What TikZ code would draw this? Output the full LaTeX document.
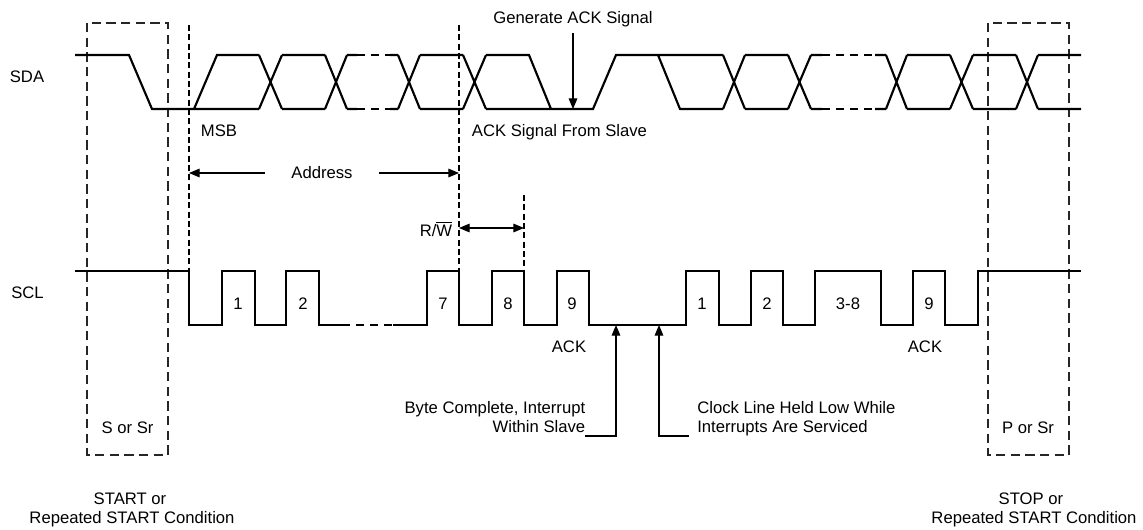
\documentclass[tikz,border=0pt]{standalone}
\usepackage{fontspec}
\setmainfont{Liberation Sans}
\usetikzlibrary{arrows.meta}
\begin{document}
\begin{tikzpicture}[x=0.75pt,y=-0.75pt,
  wave/.style={line width=1.6pt, line join=miter},
  wavedash/.style={line width=1.1pt, dash pattern=on 6pt off 4.5pt},
  marker/.style={line width=0.8pt, dash pattern=on 4.5pt off 2.5pt},
  dbox/.style={line width=0.8pt, dash pattern=on 7pt off 4pt, black!85},
  lbl/.style={font=\fontsize{12.5}{15}\selectfont, inner sep=0pt, anchor=base},
  tip/.tip={Triangle[length=8pt,width=6.5pt]},
  arr/.style={line width=0.8pt, -tip},
  dblarr/.style={line width=0.8pt, tip-tip}]

\useasboundingbox (0,0) rectangle (1143,529);

% dashed condition boxes
\draw[dbox] (87,23) rectangle (168,455);
\draw[dbox] (988,23) rectangle (1069,455);

% dashed marker lines
\coordinate (m1t) at (189,25);  \coordinate (m1b) at (189,271);
\coordinate (m2t) at (459,25);  \coordinate (m2b) at (459,271);
\coordinate (m3t) at (524,195); \coordinate (m3b) at (524,271);
\draw[marker] (m1t) -- (m1b);
\draw[marker] (m2t) -- (m2b);
\draw[marker] (m3t) -- (m3b);

% ---------------- SDA ----------------
\draw[wave]
  (75,55) -- (129,55) -- (152,109) -- (259,109)
  (194,109) -- (217,55) -- (259,55)
  (259,55) -- (282,109) (259,109) -- (282,55)
  (282,55) -- (325,55) (282,109) -- (325,109)
  (325,55) -- (347,109) (325,109) -- (347,55)
  (347,55) -- (357,55) (347,109) -- (357,109)
  (390,55) -- (398,55) (390,109) -- (398,109)
  (398,55) -- (420,109) (398,109) -- (420,55)
  (420,55) -- (463,55) (420,109) -- (463,109)
  (463,55) -- (486,109) (463,109) -- (486,55)
  (486,55) -- (529,55) -- (551,109)
  (486,109) -- (593,109) -- (616,55) -- (723,55)
  (658,55) -- (680,109) -- (723,109)
  (723,55) -- (745,109) (723,109) -- (745,55)
  (745,55) -- (788,55) (745,109) -- (788,109)
  (788,55) -- (811,109) (788,109) -- (811,55)
  (811,55) -- (822,55) (811,109) -- (822,109)
  (875,55) -- (886,55) (875,109) -- (886,109)
  (886,55) -- (907,109) (886,109) -- (907,55)
  (907,55) -- (950,55) (907,109) -- (950,109)
  (950,55) -- (973,109) (950,109) -- (973,55)
  (973,55) -- (1016,55) (973,109) -- (1016,109)
  (1016,55) -- (1038,109) (1016,109) -- (1038,55)
  (1038,55) -- (1081,55) (1038,109) -- (1081,109);
\draw[wavedash] (357,55) -- (390,55) (357,109) -- (390,109)
                (822,55) -- (875,55) (822,109) -- (875,109);

% ---------------- SCL ----------------
\draw[wave]
  (75,271) -- (189,271) -- (189,325) -- (222,325) -- (222,271) -- (255,271)
  -- (255,325) -- (286,325) -- (286,271) -- (319,271) -- (319,325) -- (342,325);
\draw[wavedash] (342,325) -- (393,325);
\draw[wave]
  (393,325) -- (427,325) -- (427,271) -- (459,271) -- (459,325) -- (492,325)
  -- (492,271) -- (524,271) -- (524,325) -- (557,325) -- (557,271) -- (589,271)
  -- (589,325) -- (686,325) -- (686,271) -- (719,271) -- (719,325) -- (751,325)
  -- (751,271) -- (783,271) -- (783,325) -- (815,325) -- (815,271) -- (881,271)
  -- (881,325) -- (913,325) -- (913,271) -- (945,271) -- (945,325) -- (978,325)
  -- (978,271) -- (1081,271);

% ---------------- labels ----------------
\node[lbl] (sda) at (27,82) {SDA};
\node[lbl] (scl) at (27.5,298) {SCL};
\node[lbl] (msb) at (219,136) {MSB};
\node[lbl] (gen) at (573,23) {Generate ACK Signal};
\node[lbl] (slv) at (559.5,136) {ACK Signal From Slave};
\node[lbl] (rw) at (436,236) {R/$\overline{\mbox{W}}$};

\node[lbl] (c1) at (238,309) {1};
\node[lbl] (c2) at (303,309) {2};
\node[lbl] (c7) at (443,309) {7};
\node[lbl] (c8) at (508,309) {8};
\node[lbl] (c9) at (572,309) {9};
\node[lbl] (d1) at (702,309) {1};
\node[lbl] (d2) at (767,309) {2};
\node[lbl] (d38) at (848,309) {3-8};
\node[lbl] (d9) at (929,309) {9};

\node[lbl] (ack1) at (569,352) {ACK};
\node[lbl] (ack2) at (925,352) {ACK};

\node[lbl, anchor=base east] (bc1) at (585.5,413) {Byte Complete, Interrupt};
\node[lbl, anchor=base east] (bc2) at (585.5,432.5) {Within Slave};
\node[lbl, anchor=base west] (cl1) at (697,413) {Clock Line Held Low While};
\node[lbl, anchor=base west] (cl2) at (697,432.5) {Interrupts Are Serviced};

\node[lbl] (ssr) at (127.5,433) {S or Sr};
\node[lbl] (psr) at (1028,433) {P or Sr};
\node[lbl] (st1) at (130,504) {START or};
\node[lbl] (st2) at (132,523) {Repeated START Condition};
\node[lbl] (sp1) at (1031,504) {STOP or};
\node[lbl] (sp2) at (1034,523) {Repeated START Condition};

% ---------------- arrows ----------------
\coordinate (adl) at (189,173);
\coordinate (adr) at (459,173);
\draw[dblarr] (adl) -- (adr);
\node[lbl, anchor=center, fill=white, inner xsep=19.5pt, inner ysep=1pt] (addr) at (322,173) {Address};

\coordinate (rwl) at (459,228);
\coordinate (rwr) at (524,228);
\draw[dblarr] (rwl) -- (rwr);

\coordinate (genbot) at (573,109);
\draw[arr] (573,33) coordinate (gentop) -- (genbot);

\coordinate (bcend) at (585,436);
\coordinate (bctip) at (616,325);
\draw[arr] (bcend) -| (bctip);

\coordinate (clend) at (689,436);
\coordinate (cltip) at (659,325);
\draw[arr] (clend) -| (cltip);

\end{tikzpicture}
\end{document}
